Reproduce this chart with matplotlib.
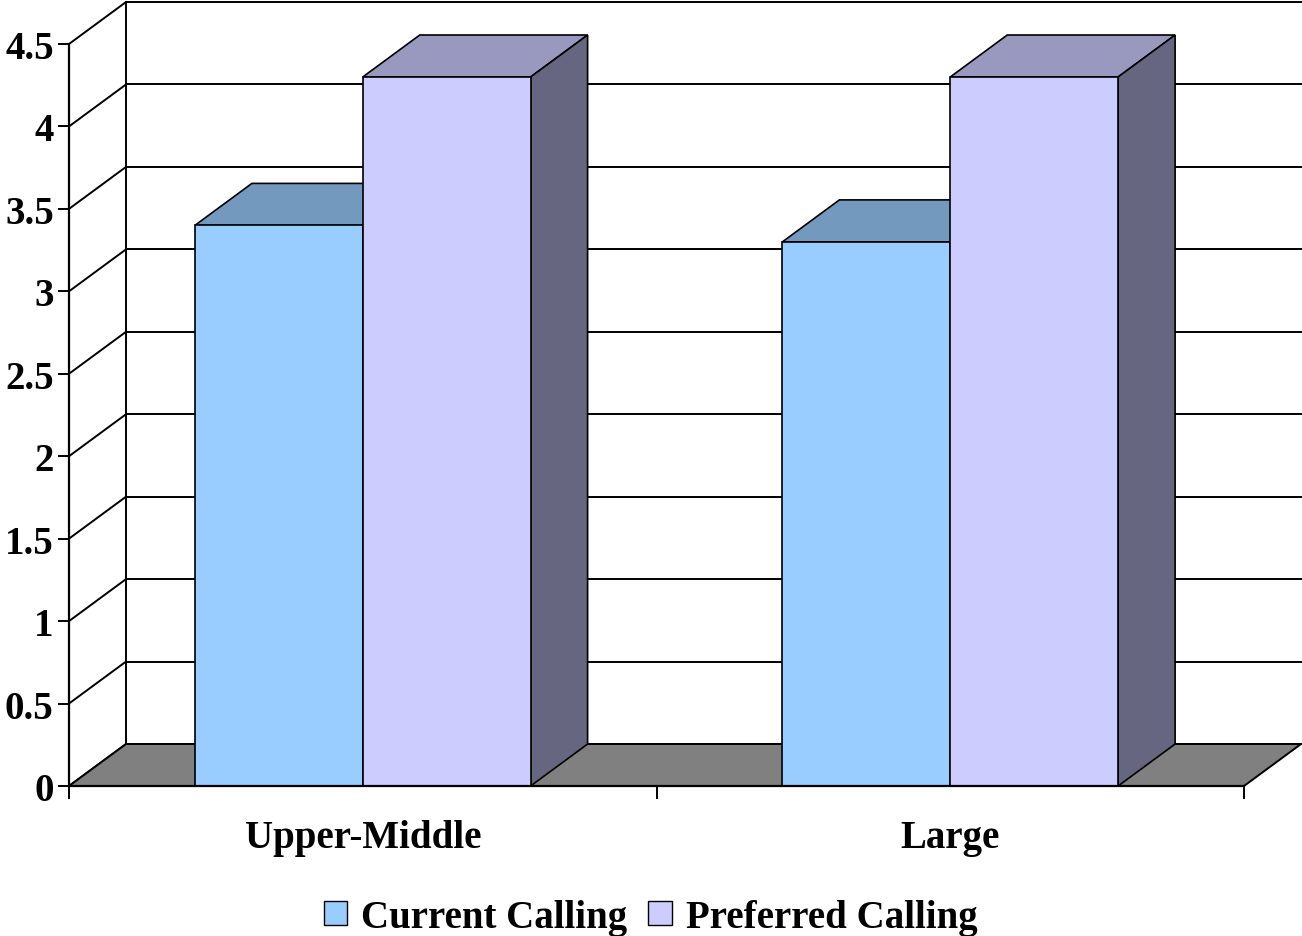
import matplotlib.pyplot as plt
from matplotlib.patches import Polygon, Patch

# data
categories = ['Upper-Middle', 'Large']
series_names = ['Current Calling', 'Preferred Calling']
current_calling = [3.4, 3.3]
preferred_calling = [4.3, 4.3]
y_ticks = [0, 0.5, 1, 1.5, 2, 2.5, 3, 3.5, 4, 4.5]
y_tick_labels = ['0', '0.5', '1', '1.5', '2', '2.5', '3', '3.5', '4', '4.5']

# colours (front, top, side) for each series
front_cols = ['#99CCFF', '#CCCCFF']
top_cols = ['#7399BF', '#9999BF']
side_cols = ['#4D6680', '#666680']

plt.rcParams['font.family'] = ['Liberation Serif', 'DejaVu Serif']
plt.rcParams['font.weight'] = 'bold'

fig = plt.figure(figsize=(13.02, 9.37), dpi=100)
ax = fig.add_axes([69 / 1302, 150 / 937, 1175 / 1302, 742 / 937])
ax.set_xlim(0, len(categories))
ax.set_ylim(0, 4.5)

# depth offset of the fake 3d box, in data units
dx = 57 / 587.5
dy = 42 / 165.0
ymax = 4.5
xmax = len(categories)
lw = 1.4

# back wall gridlines and left wall diagonals
for v in y_ticks:
    ax.plot([dx, xmax + dx], [v + dy, v + dy], color='black', lw=lw,
            clip_on=False, zorder=1)
    ax.plot([0, dx], [v, v + dy], color='black', lw=lw, clip_on=False, zorder=1)
ax.plot([dx, dx], [dy, ymax + dy], color='black', lw=lw, clip_on=False, zorder=1)

# floor
floor = Polygon([(0, 0), (xmax, 0), (xmax + dx, dy), (dx, dy)], closed=True,
                facecolor='#808080', edgecolor='black', lw=lw, clip_on=False,
                zorder=2)
ax.add_patch(floor)

# bars
w = 1 / 3.5
centers = [i + 0.5 for i in range(len(categories))]
z = 3
for s, vals in enumerate([current_calling, preferred_calling]):
    lefts = [c - w + s * w for c in centers]
    ax.bar(lefts, vals, width=w, align='edge', color=front_cols[s],
           edgecolor='black', lw=1.2, zorder=z + 0.5)
    for x0, v in zip(lefts, vals):
        top = Polygon([(x0, v), (x0 + w, v), (x0 + w + dx, v + dy), (x0 + dx, v + dy)],
                      closed=True, facecolor=top_cols[s], edgecolor='black',
                      lw=1.2, clip_on=False, zorder=z)
        side = Polygon([(x0 + w, 0), (x0 + w + dx, dy), (x0 + w + dx, v + dy), (x0 + w, v)],
                       closed=True, facecolor=side_cols[s], edgecolor='black',
                       lw=1.2, clip_on=False, zorder=z)
        ax.add_patch(top)
        ax.add_patch(side)
    z += 1

# axes styling
for sp in ['top', 'right']:
    ax.spines[sp].set_visible(False)
for sp in ['left', 'bottom']:
    ax.spines[sp].set_linewidth(1.6)
    ax.spines[sp].set_zorder(10)
ax.set_facecolor('none')

ax.set_yticks(y_ticks)
ax.set_yticklabels(y_tick_labels, fontsize=28, fontweight='bold')
ax.tick_params(axis='y', length=8, width=1.4, pad=3)

ax.set_xticks(range(len(categories) + 1))
ax.set_xticklabels([])
ax.set_xticks(centers, minor=True)
ax.set_xticklabels(categories, minor=True, fontsize=28, fontweight='bold')
ax.tick_params(axis='x', which='major', length=9, width=1.4)
ax.tick_params(axis='x', which='minor', length=0, pad=24)

handles = [Patch(facecolor=front_cols[i], edgecolor='black', lw=1.0)
           for i in range(2)]
fig.legend(handles, series_names, loc='center', bbox_to_anchor=(0.4996, 0.02),
           ncol=2, frameon=False, prop={'size': 28, 'weight': 'bold'},
           handlelength=0.6, handleheight=0.6, handletextpad=0.36,
           columnspacing=0.54)

fig.savefig('out.png', dpi=100)
